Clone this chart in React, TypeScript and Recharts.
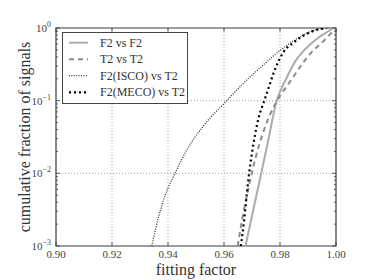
import React from 'react';
import { LineChart, Line, XAxis, YAxis, ReferenceLine, ReferenceArea, Legend } from 'recharts';

// ---- data ----
const f2f2_ff = [0.9677, 0.9705, 0.9733, 0.976, 0.9788, 0.9803, 0.9819, 0.9855, 0.989, 0.9932, 0.9974, 0.999];
const f2f2_frac = [0.001, 0.0032, 0.01, 0.031, 0.1, 0.141, 0.19, 0.35, 0.51, 0.71, 0.91, 1.0];

const t2t2_ff = [0.9649, 0.9665, 0.9682, 0.9699, 0.9722, 0.9745, 0.9768, 0.979, 0.9843, 0.9879, 0.9914, 0.995, 0.998, 1.0];
const t2t2_frac = [0.001, 0.00234, 0.005, 0.01, 0.0221, 0.0417, 0.069, 0.1, 0.2, 0.32, 0.47, 0.63, 0.83, 1.0];

const isco_ff = [0.9342, 0.9365, 0.939, 0.9425, 0.947, 0.953, 0.961, 0.9675, 0.9736, 0.98, 0.9855, 0.9914, 0.9956];
const isco_frac = [0.001, 0.0024, 0.005, 0.01, 0.0219, 0.0468, 0.1, 0.182, 0.3, 0.49, 0.69, 0.91, 1.0];

const meco_ff = [0.966, 0.9671, 0.9681, 0.9689, 0.9699, 0.9711, 0.9723, 0.9744, 0.9764, 0.9777, 0.9795, 0.9813, 0.9849, 0.9885, 0.9926, 0.9968];
const meco_frac = [0.001, 0.0021, 0.005, 0.0095, 0.018, 0.034, 0.057, 0.1, 0.17, 0.24, 0.35, 0.47, 0.63, 0.79, 0.93, 1.0];

const seriesNames = ['F2 vs F2', 'T2 vs T2', 'F2(ISCO) vs T2', 'F2(MECO) vs T2'];

const xTicks = [0.9, 0.92, 0.94, 0.96, 0.98, 1.0];
const gridX = [0.92, 0.94, 0.96, 0.98];
const gridY = [0.01, 0.1];
const decades = [0.001, 0.01, 0.1];
const minorMultipliers = [1, 2, 3, 4, 5, 6, 7, 8, 9];
const yTicks = [...decades.flatMap((d) => minorMultipliers.map((m) => +(d * m).toPrecision(3))), 1];

const toPoints = (xs: number[], ys: number[]) => xs.map((x, i) => ({ x, y: ys[i] }));
const f2f2 = toPoints(f2f2_ff, f2f2_frac);
const t2t2 = toPoints(t2t2_ff, t2t2_frac);
const isco = toPoints(isco_ff, isco_frac);
const meco = toPoints(meco_ff, meco_frac);

// ---- styles ----
const W = 374;
const H = 280;
const M = { top: 28, right: 38, left: 0, bottom: 0 };
const Y_AXIS_W = 56;
const X_AXIS_H = 34;
const PLOT_W = W - M.left - M.right - Y_AXIS_W;
const PLOT_H = H - M.top - M.bottom - X_AXIS_H;
const FONT = '"Liberation Serif", "DejaVu Serif", serif';
const FRAME = '#3a3a3a';
const TICK_TXT = '#444';

const styles = [
  { stroke: '#ababab', width: 2, dash: undefined as string | undefined },
  { stroke: '#8c8c8c', width: 2, dash: '5 4' },
  { stroke: '#333333', width: 1.3, dash: '1 1.4' },
  { stroke: '#000000', width: 2.2, dash: '2 3' },
];

const isMajor = (v: number) => Math.abs(Math.log10(v) - Math.round(Math.log10(v))) < 1e-6;

const XTick = (props: any) => {
  const { x, y, payload } = props;
  return (
    <g>
      <line x1={x} y1={y} x2={x} y2={y - 4} stroke={FRAME} strokeWidth={0.8} />
      <line x1={x} y1={y - PLOT_H} x2={x} y2={y - PLOT_H + 4} stroke={FRAME} strokeWidth={0.8} />
      <text x={x} y={y + 12} textAnchor="middle" fontFamily={FONT} fontSize={11} fill={TICK_TXT}>
        {Number(payload.value).toFixed(2)}
      </text>
    </g>
  );
};

const YTick = (props: any) => {
  const { x, y, payload } = props;
  const v = Number(payload.value);
  const major = isMajor(v);
  const len = major ? 4 : 2;
  const exp = Math.round(Math.log10(v));
  return (
    <g>
      <line x1={x} y1={y} x2={x + len} y2={y} stroke={FRAME} strokeWidth={0.8} />
      <line x1={x + PLOT_W - len} y1={y} x2={x + PLOT_W} y2={y} stroke={FRAME} strokeWidth={0.8} />
      {major && (
        <text x={x - 5} y={y + 4} textAnchor="end" fontFamily={FONT} fontSize={11} fill={TICK_TXT}>
          <tspan>10</tspan>
          <tspan dy={-5} fontSize={8}>{exp < 0 ? '\u2212' + Math.abs(exp) : String(exp)}</tspan>
        </text>
      )}
    </g>
  );
};

const XLabel = (props: any) => {
  const vb = props.viewBox || {};
  return (
    <text x={vb.x + vb.width / 2} y={vb.y + 29} textAnchor="middle" fontFamily={FONT} fontSize={16} fill="#333">
      fitting factor
    </text>
  );
};

const YLabel = (props: any) => {
  const vb = props.viewBox || {};
  const cx = (vb.x || 0) + 24;
  const cy = vb.y + vb.height / 2;
  return (
    <text
      x={cx}
      y={cy}
      textAnchor="middle"
      dominantBaseline="central"
      transform={`rotate(-90 ${cx} ${cy})`}
      fontFamily={FONT}
      fontSize={16}
      fill="#333"
    >
      cumulative fraction of signals
    </text>
  );
};

const LegendBox = () => {
  const bw = 126;
  const bh = 72;
  const rows = [10.7, 27.3, 43.7, 60.3];
  return (
    <svg width={bw} height={bh} style={{ display: 'block' }}>
      <rect x={0.5} y={0.5} width={bw - 1} height={bh - 1} fill="#fff" stroke="#444" strokeWidth={1} />
      {seriesNames.map((name, i) => (
        <g key={name}>
          <line
            x1={7}
            x2={26}
            y1={rows[i]}
            y2={rows[i]}
            stroke={styles[i].stroke}
            strokeWidth={styles[i].width}
            strokeDasharray={styles[i].dash}
          />
          <text x={38} y={rows[i] + 4} fontFamily={FONT} fontSize={12} fill="#333">
            {name}
          </text>
        </g>
      ))}
    </svg>
  );
};

export default function App() {
  const series = [f2f2, t2t2, isco, meco];
  return (
    <div style={{ position: 'absolute', left: 0, top: 0, width: W, height: H, background: '#fff' }}>
      <LineChart width={W} height={H} margin={M}>
        <XAxis
          type="number"
          dataKey="x"
          domain={[0.9, 1.0]}
          ticks={xTicks}
          interval={0}
          allowDataOverflow
          height={X_AXIS_H}
          axisLine={false}
          tickLine={false}
          tickSize={0}
          tickMargin={0}
          tick={<XTick />}
          label={<XLabel />}
        />
        <YAxis
          type="number"
          dataKey="y"
          scale="log"
          domain={[0.001, 1]}
          ticks={yTicks}
          interval={0}
          allowDataOverflow
          width={Y_AXIS_W}
          axisLine={false}
          tickLine={false}
          tickSize={0}
          tickMargin={0}
          tick={<YTick />}
          label={<YLabel />}
        />
        {gridX.map((gx) => (
          <ReferenceLine key={'gx' + gx} x={gx} stroke="#8a8a8a" strokeWidth={0.8} strokeDasharray="1 2" />
        ))}
        {gridY.map((gy) => (
          <ReferenceLine key={'gy' + gy} y={gy} stroke="#8a8a8a" strokeWidth={0.8} strokeDasharray="1 2" />
        ))}
        {series.map((d, i) => (
          <Line
            key={seriesNames[i]}
            data={d}
            dataKey="y"
            name={seriesNames[i]}
            type="monotone"
            stroke={styles[i].stroke}
            strokeWidth={styles[i].width}
            strokeDasharray={styles[i].dash}
            dot={false}
            activeDot={false}
            isAnimationActive={false}
          />
        ))}
        <ReferenceArea x1={0.9} x2={1.0} y1={0.001} y2={1} fill="none" stroke={FRAME} strokeWidth={1.2} />
        <Legend
          layout="vertical"
          align="center"
          verticalAlign="middle"
          content={<LegendBox />}
          wrapperStyle={{ position: 'absolute', left: 62, top: 32, width: 126, height: 72, margin: 0, padding: 0 }}
        />
      </LineChart>
    </div>
  );
}
